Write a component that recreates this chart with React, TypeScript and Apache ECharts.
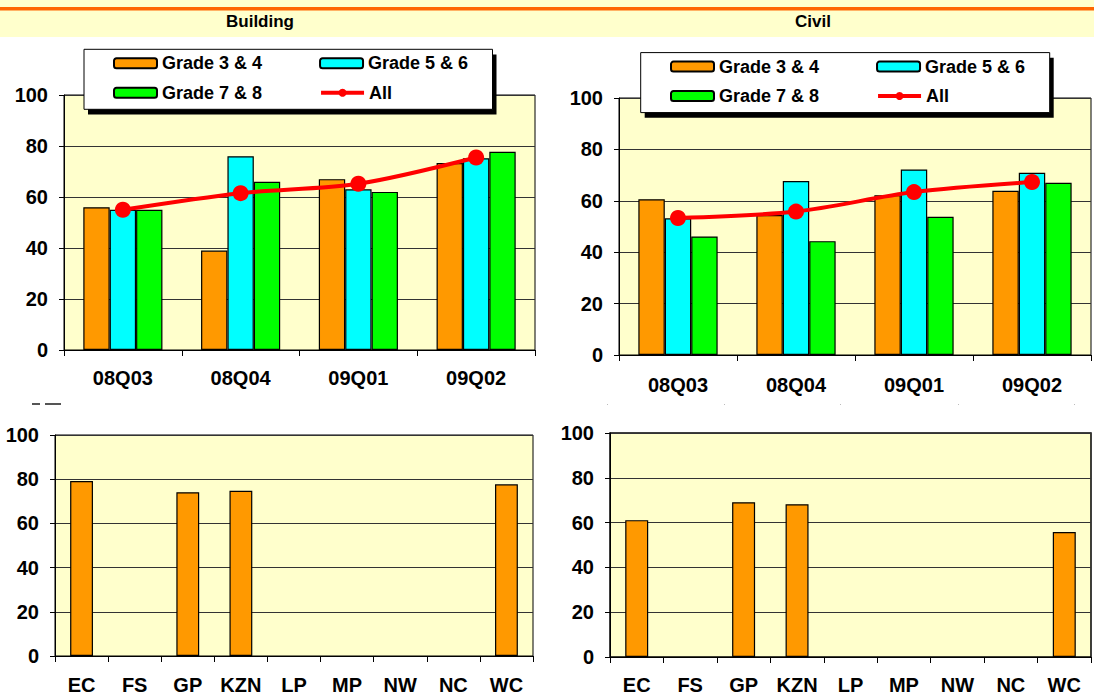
import React, { useEffect, useRef } from "react";
import * as echarts from "echarts";

const FONT = "'Liberation Sans', Arial, sans-serif";

const quarters = ["08Q03", "08Q04", "09Q01", "09Q02"];
const seriesNames = ["Grade 3 & 4", "Grade 5 & 6", "Grade 7 & 8", "All"];

const buildingG34 = [56, 39, 67, 73.3];
const buildingG56 = [55, 76, 63, 75.2];
const buildingG78 = [55, 66, 62, 77.7];
const buildingAll = [55, 61.5, 65.2, 75.5];

const civilG34 = [60.6, 54.5, 62.2, 63.9];
const civilG56 = [53.2, 67.7, 72.2, 70.9];
const civilG78 = [46.1, 44.3, 53.8, 67];
const civilAll = [53.3, 55.8, 63.4, 67.3];

const provinces = ["EC", "FS", "GP", "KZN", "LP", "MP", "NW", "NC", "WC"];
const buildingProv = [79.2, null, 74.1, 74.8, null, null, null, null, 77.7];
const civilProv = [61.1, null, 69.1, 68.2, null, null, null, null, 55.8];

const yTicks = { min: 0, max: 100, interval: 20 };

const ORANGE = "#FF9900";
const CYAN = "#00FFFF";
const GREEN = "#00FF00";
const RED = "#FF0000";

function App() {
  const ref = useRef<HTMLDivElement>(null);

  useEffect(() => {
    if (!ref.current) return;
    const chart = echarts.init(ref.current, null, { renderer: "svg" });

    const labelStyle = { fontFamily: FONT, fontWeight: "bold" as const, fontSize: 20, color: "#000" };

    const catAxis = (gridIndex: number, data: string[], margin: number) => ({
      type: "category",
      gridIndex,
      data,
      axisLine: { show: true, lineStyle: { color: "#000", width: 1 } },
      axisTick: { show: true, length: 6, lineStyle: { color: "#000" } },
      axisLabel: { ...labelStyle, margin, interval: 0 },
      splitLine: { show: false },
    });
    const midTickAxis = (gridIndex: number, data: string[]) => ({
      type: "category",
      gridIndex,
      data,
      axisLine: { show: false },
      axisLabel: { show: false },
      axisTick: { show: true, alignWithLabel: true, length: 6, lineStyle: { color: "#000" } },
      splitLine: { show: false },
    });
    const valAxis = (gridIndex: number) => ({
      type: "value",
      gridIndex,
      ...yTicks,
      axisLine: { show: true, lineStyle: { color: "#000", width: 1 } },
      axisTick: { show: true, length: 5, lineStyle: { color: "#000" } },
      axisLabel: { ...labelStyle, margin: 16 },
      splitLine: { show: true, lineStyle: { color: "#333", width: 1 } },
    });

    const barItem = (color: string) => ({ color, borderColor: "#000", borderWidth: 1.2 });

    const gradeSeries = (xi: number, yi: number, g34: number[], g56: number[], g78: number[], all: number[]) => [
      { name: seriesNames[0], type: "bar", xAxisIndex: xi, yAxisIndex: yi, data: g34, barWidth: "22.4%", barGap: "0%", itemStyle: barItem(ORANGE), z: 2 },
      { name: seriesNames[1], type: "bar", xAxisIndex: xi, yAxisIndex: yi, data: g56, barWidth: "22.4%", barGap: "0%", itemStyle: barItem(CYAN), z: 2 },
      { name: seriesNames[2], type: "bar", xAxisIndex: xi, yAxisIndex: yi, data: g78, barWidth: "22.4%", barGap: "0%", itemStyle: barItem(GREEN), z: 2 },
      {
        name: seriesNames[3],
        type: "line",
        xAxisIndex: xi,
        yAxisIndex: yi,
        data: all,
        smooth: 0.3,
        symbol: "circle",
        symbolSize: 16,
        lineStyle: { color: RED, width: 4 },
        itemStyle: { color: RED },
        z: 3,
      },
    ];

    const legendBase = {
      orient: "horizontal",
      padding: 0,
      itemWidth: 43,
      itemHeight: 10,
      itemGap: 57,
      selectedMode: false,
      z: 10,
      textStyle: { fontFamily: FONT, fontWeight: "bold", fontSize: 18, color: "#000", lineHeight: 20 },
    };
    const allLegendItem = { name: seriesNames[3], lineStyle: { width: 4, color: RED }, itemStyle: { color: RED } };

    const option: any = {
      animation: false,
      backgroundColor: "#FFFFFF",
      textStyle: { fontFamily: FONT },
      grid: [
        { left: 64, top: 95, width: 471, height: 255, show: true, backgroundColor: "#FFFFCC", borderColor: "#000", borderWidth: 1 },
        { left: 619, top: 98, width: 472, height: 257, show: true, backgroundColor: "#FFFFCC", borderColor: "#000", borderWidth: 1 },
        { left: 55, top: 435, width: 478, height: 221, show: true, backgroundColor: "#FFFFCC", borderColor: "#000", borderWidth: 1 },
        { left: 610, top: 433, width: 481, height: 224, show: true, backgroundColor: "#FFFFCC", borderColor: "#000", borderWidth: 1.5 },
      ],
      xAxis: [
        catAxis(0, quarters, 18),
        midTickAxis(0, quarters),
        catAxis(1, quarters, 20),
        midTickAxis(1, quarters),
        catAxis(2, provinces, 19),
        catAxis(3, provinces, 18),
      ],
      yAxis: [valAxis(0), valAxis(1), valAxis(2), valAxis(3)],
      legend: [
        { ...legendBase, data: [seriesNames[0], seriesNames[1]], left: 113, top: 53.3 },
        { ...legendBase, data: [seriesNames[2], allLegendItem], left: 113, top: 82.7 },
        { ...legendBase, data: [seriesNames[0], seriesNames[1]], left: 670, top: 56.6 },
        { ...legendBase, data: [seriesNames[2], allLegendItem], left: 670, top: 86 },
      ],
      series: [
        ...gradeSeries(0, 0, buildingG34, buildingG56, buildingG78, buildingAll),
        ...gradeSeries(2, 1, civilG34, civilG56, civilG78, civilAll),
        { name: "Building by province", type: "bar", xAxisIndex: 4, yAxisIndex: 2, data: buildingProv, barWidth: "43%", itemStyle: barItem(ORANGE) },
        { name: "Civil by province", type: "bar", xAxisIndex: 5, yAxisIndex: 3, data: civilProv, barWidth: "43%", itemStyle: barItem(ORANGE) },
      ],
      graphic: [
        { type: "rect", z: 1, shape: { x: 0, y: 0, width: 1094, height: 37 }, style: { fill: "#FFFFCC" } },
        { type: "rect", z: 2, shape: { x: 0, y: 7, width: 1094, height: 3.5 }, style: { fill: "#FF6600" } },
        { type: "text", z: 2, x: 260, y: 21, style: { text: "Building", font: `bold 17px ${FONT}`, fill: "#000", textAlign: "center", textVerticalAlign: "middle" } },
        { type: "text", z: 2, x: 813, y: 21, style: { text: "Civil", font: `bold 17px ${FONT}`, fill: "#000", textAlign: "center", textVerticalAlign: "middle" } },
        // legend boxes with shadows
        { type: "rect", z: 5, shape: { x: 88, y: 54.5, width: 408.5, height: 60 }, style: { fill: "#000" } },
        { type: "rect", z: 6, shape: { x: 84, y: 49.3, width: 408.5, height: 60 }, style: { fill: "#FFFFFF", stroke: "#000", lineWidth: 1 } },
        { type: "rect", z: 5, shape: { x: 644.7, y: 57.8, width: 409, height: 60 }, style: { fill: "#000" } },
        { type: "rect", z: 6, shape: { x: 640.7, y: 52.6, width: 409, height: 60 }, style: { fill: "#FFFFFF", stroke: "#000", lineWidth: 1 } },
        // faint remnants between the panels
        { type: "rect", z: 1, shape: { x: 32, y: 403, width: 8, height: 2 }, style: { fill: "#555" } },
        { type: "rect", z: 1, shape: { x: 45, y: 403, width: 16, height: 2 }, style: { fill: "#555" } },
        { type: "rect", z: 1, shape: { x: 607, y: 404, width: 1, height: 1 }, style: { fill: "#bbb" } },
        { type: "rect", z: 1, shape: { x: 724, y: 404, width: 1, height: 1 }, style: { fill: "#bbb" } },
        { type: "rect", z: 1, shape: { x: 840, y: 404, width: 1, height: 1 }, style: { fill: "#bbb" } },
        { type: "rect", z: 1, shape: { x: 958, y: 404, width: 1, height: 1 }, style: { fill: "#bbb" } },
        { type: "rect", z: 1, shape: { x: 1074, y: 404, width: 1, height: 1 }, style: { fill: "#bbb" } },
      ],
    };

    chart.setOption(option);
    return () => chart.dispose();
  }, []);

  return (
    <div
      ref={ref}
      style={{ position: "absolute", left: 0, top: 0, width: 1094, height: 700, background: "#fff" }}
    />
  );
}

export default App;
